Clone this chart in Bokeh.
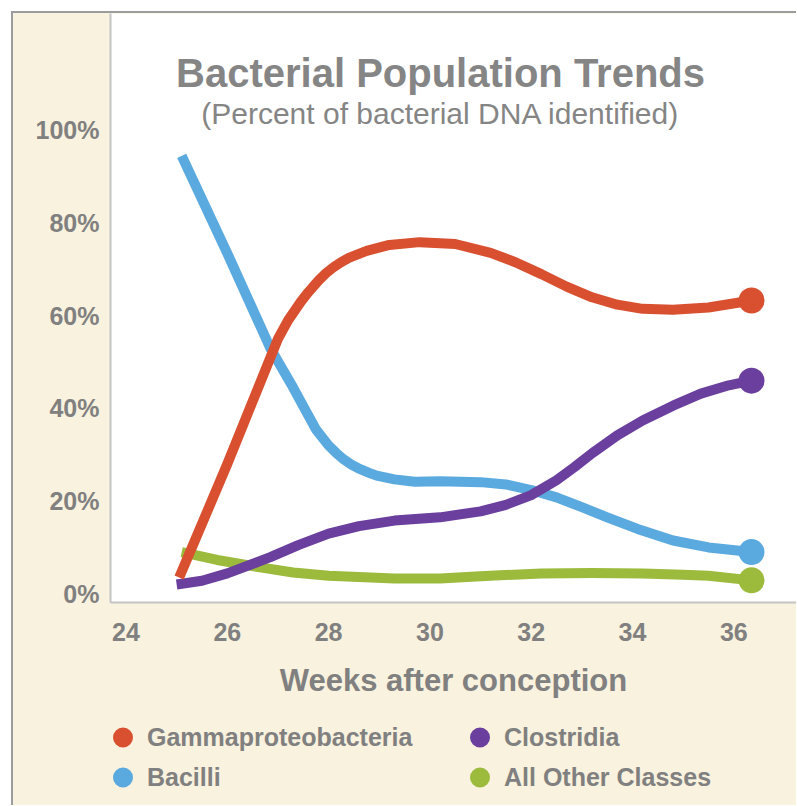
from bokeh.plotting import figure
from bokeh.layouts import column
from bokeh.models import Label, Legend, LegendItem, FixedTicker, Range1d
from bokeh.embed import file_html
from bokeh.resources import INLINE

# ---- data ----
title_text = "Bacterial Population Trends"
subtitle_text = "(Percent of bacterial DNA identified)"
x_label = "Weeks after conception"
x_ticks = [24, 26, 28, 30, 32, 34, 36]
y_ticks = [0, 20, 40, 60, 80, 100]
y_tick_labels = ["0%", "20%", "40%", "60%", "80%", "100%"]

series_names = ["Gammaproteobacteria", "Clostridia", "Bacilli", "All Other Classes"]

gamma_weeks = [25.05, 26.0, 26.85, 27.0, 27.2, 27.45, 27.6, 27.8, 27.95, 28.1, 28.25, 28.4,
               28.75, 29.2, 29.8, 30.5, 31.2, 31.7, 32.2, 32.7, 33.2, 33.7, 34.2, 34.8,
               35.5, 36.35]
gamma_pct = [3.5, 28.0, 51.0, 55.0, 59.0, 63.0, 65.1, 67.6, 69.2, 70.5, 71.6, 72.5,
             74.0, 75.3, 75.9, 75.5, 73.6, 71.5, 69.0, 66.3, 64.0, 62.4, 61.5, 61.3,
             61.8, 63.3]

clost_weeks = [25.0, 25.5, 26.0, 26.85, 27.4, 28.0, 28.6, 29.3, 30.2, 31.0, 31.5, 32.0,
               32.5, 32.85, 33.2, 33.7, 34.2, 34.8, 35.35, 35.9, 36.35]
clost_pct = [2.0, 2.8, 4.4, 7.9, 10.5, 13.0, 14.6, 15.8, 16.5, 17.8, 19.2, 21.3,
             24.5, 27.3, 30.3, 34.2, 37.4, 40.6, 43.2, 45.0, 46.0]

bac_weeks = [25.1, 26.0, 26.85, 27.3, 27.55, 27.75, 28.0, 28.15, 28.3, 28.45, 28.6, 28.8,
             28.95, 29.3, 29.7, 30.2, 31.0, 31.5, 32.0, 32.5, 33.0, 33.5, 34.1, 34.8,
             35.5, 36.35]
bac_pct = [94.5, 73.5, 53.0, 44.5, 39.5, 35.5, 32.0, 30.4, 29.0, 27.9, 27.0, 26.1,
           25.5, 24.7, 24.2, 24.3, 24.1, 23.6, 22.4, 20.8, 18.7, 16.5, 14.0, 11.5,
           10.0, 9.0]

other_weeks = [25.1, 25.8, 26.65, 27.3, 28.0, 29.3, 30.2, 31.0, 32.2, 33.2, 34.2, 35.0,
               35.5, 36.35]
other_pct = [9.0, 7.3, 5.7, 4.6, 3.9, 3.3, 3.3, 3.8, 4.4, 4.5, 4.4, 4.1, 3.9, 2.9]

# ---- style ----
CREAM = "#f9f2de"
GRAY_TEXT = "#808080"
SANS = "Liberation Sans"
colors = {
    "Gammaproteobacteria": "#d8502f",
    "Clostridia": "#6a3f9e",
    "Bacilli": "#5aa9df",
    "All Other Classes": "#9cbb3c",
}

p = figure(
    width=783, height=693,
    output_backend="svg", toolbar_location=None,
    x_range=Range1d(23.694, 37.238), y_range=Range1d(-1.88, 125.25),
    min_border_left=97, min_border_right=0, min_border_top=0, min_border_bottom=104,
    background_fill_color="white", border_fill_color=CREAM,
    outline_line_color=None,
)
p.grid.visible = False

for ax in (p.xaxis[0], p.yaxis[0]):
    ax.axis_line_color = "#c4c4c4"
    ax.axis_line_width = 2
    ax.major_tick_line_color = None
    ax.minor_tick_line_color = None
    ax.major_tick_out = 0
    ax.minor_tick_out = 0
    ax.major_label_text_font = SANS
    ax.major_label_text_font_style = "bold"
    ax.major_label_text_font_size = "25px"
    ax.major_label_text_color = GRAY_TEXT

p.xaxis.ticker = FixedTicker(ticks=x_ticks)
p.xaxis.major_label_standoff = 20
p.xaxis.axis_label = x_label
p.xaxis.axis_label_text_font = SANS
p.xaxis.axis_label_text_font_style = "bold"
p.xaxis.axis_label_text_font_size = "31px"
p.xaxis.axis_label_text_color = GRAY_TEXT
p.xaxis.axis_label_standoff = 19

p.yaxis.ticker = FixedTicker(ticks=y_ticks)
p.yaxis.major_label_overrides = {t: s for t, s in zip(y_ticks, y_tick_labels)}
p.yaxis.major_label_standoff = 11

data = {
    "Gammaproteobacteria": (gamma_weeks, gamma_pct),
    "Clostridia": (clost_weeks, clost_pct),
    "Bacilli": (bac_weeks, bac_pct),
    "All Other Classes": (other_weeks, other_pct),
}

for name in ["Bacilli", "All Other Classes", "Clostridia", "Gammaproteobacteria"]:
    xs, ys = data[name]
    c = colors[name]
    p.line(xs, ys, line_width=10, line_color=c, line_join="round", line_cap="butt")
    p.scatter([xs[-1]], [ys[-1]], size=26, fill_color=c, line_color=None)

p.add_layout(Label(x=30.21, y=112.5, text=title_text, text_align="center",
                   text_baseline="alphabetic", text_font=SANS, text_font_size="40px",
                   text_font_style="bold", text_color="#858585"))
p.add_layout(Label(x=30.21, y=103.6, text=subtitle_text, text_align="center",
                   text_baseline="alphabetic", text_font=SANS, text_font_size="30px",
                   text_font_style="normal", text_color="#858585"))

# ---- legend strip below the chart ----
pl = figure(
    width=783, height=99, output_backend="svg", toolbar_location=None,
    x_range=Range1d(0, 1), y_range=Range1d(0, 1),
    x_axis_type=None, y_axis_type=None,
    min_border_left=0, min_border_right=0, min_border_top=0, min_border_bottom=0,
    background_fill_color=None, border_fill_color=None, outline_line_color=None,
)
pl.grid.visible = False
# legend swatches (their points lie outside this strip's ranges, so only the legend shows them)
legend_renderers = {
    n: pl.scatter(x=[data[n][0][-1]], y=[data[n][1][-1]], size=10, fill_color=colors[n],
                  line_color=colors[n], line_width=10)
    for n in series_names
}
legend = Legend(
    items=[LegendItem(label=n, renderers=[legend_renderers[n]]) for n in series_names],
    orientation="horizontal", ncols=2,
    location=(0, 8),
    glyph_width=25, glyph_height=40, spacing=0, label_standoff=12, label_width=320,
    label_text_font=SANS, label_text_font_size="25px", label_text_font_style="bold",
    label_text_color=GRAY_TEXT, background_fill_alpha=0, border_line_color=None,
    padding=0, margin=0,
)
pl.add_layout(legend, "center")

layout = column(p, pl, spacing=0)
layout.styles = {
    "margin-top": "11px", "margin-left": "11px",
    "border-top": "2px solid #9c9c9c", "border-left": "2px solid #9c9c9c",
    "background-color": CREAM,
}

open("out.html", "w").write(file_html(layout, INLINE))
